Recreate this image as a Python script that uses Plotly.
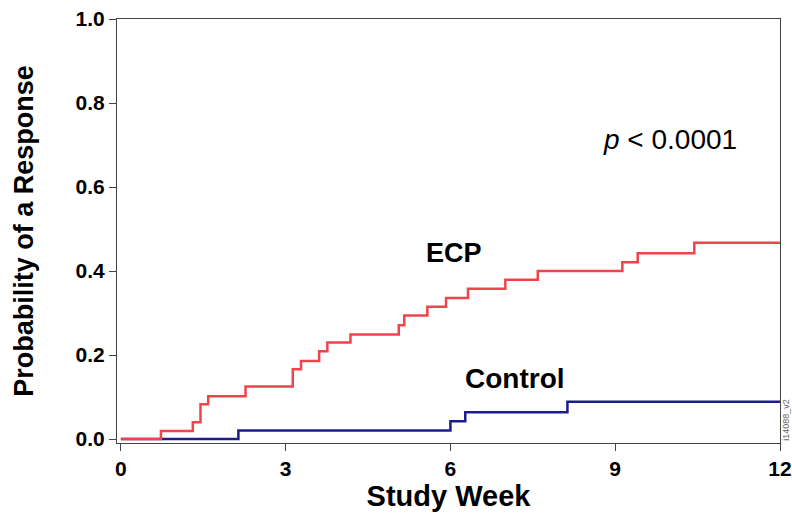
import plotly.graph_objects as go

# ECP step curve (study week, probability)
ecp_week = [0, 0.73, 1.31, 1.45, 1.59, 2.27, 3.13, 3.28, 3.61, 3.76, 4.18, 5.06, 5.16, 5.58, 5.92, 6.32, 7.0, 7.59, 9.13, 9.41, 10.44, 12]
ecp_prob = [0, 0.019, 0.040, 0.083, 0.102, 0.125, 0.166, 0.186, 0.209, 0.230, 0.249, 0.271, 0.294, 0.315, 0.336, 0.358, 0.379, 0.400, 0.421, 0.442, 0.467, 0.467]

# Control step curve
ctl_week = [0, 2.14, 6.0, 6.27, 8.13, 12]
ctl_prob = [0, 0.020, 0.042, 0.064, 0.089, 0.089]

x_ticks = [0, 3, 6, 9, 12]
y_ticks = [0.0, 0.2, 0.4, 0.6, 0.8, 1.0]
y_ticklabels = ["0.0", "0.2", "0.4", "0.6", "0.8", "1.0"]

FONT = "Liberation Sans, Arial, Helvetica, sans-serif"

fig = go.Figure()
fig.add_trace(go.Scatter(x=ctl_week, y=ctl_prob, mode="lines", line_shape="hv",
                         line=dict(color="#1c1c8e", width=2.5), name="Control"))
fig.add_trace(go.Scatter(x=ecp_week, y=ecp_prob, mode="lines", line_shape="hv",
                         line=dict(color="#f0444c", width=2.5), name="ECP"))

fig.add_annotation(x=6.07, y=0.443, xref="x", yref="y", text="<b>ECP</b>", showarrow=False,
                   font=dict(family=FONT, size=27, color="black"))
fig.add_annotation(x=7.18, y=0.145, xref="x", yref="y", text="<b>Control</b>", showarrow=False,
                   font=dict(family=FONT, size=28, color="black"))
fig.add_annotation(x=10.0, y=0.712, xref="x", yref="y", text="<i>p</i> &lt; 0.0001", showarrow=False,
                   font=dict(family=FONT, size=28, color="black"))
fig.add_annotation(x=1.0085, y=0.054, xref="paper", yref="paper", text="i14088_v2", showarrow=False,
                   textangle=-90, xanchor="center", yanchor="middle",
                   font=dict(family=FONT, size=9, color="#666"))

fig.update_layout(
    width=792, height=514,
    margin=dict(l=117, r=12, t=19, b=71, autoexpand=False),
    plot_bgcolor="white", paper_bgcolor="white",
    showlegend=False,
    font=dict(family=FONT, color="black"),
    xaxis=dict(range=[-0.07, 12], tickvals=x_ticks, ticks="outside", ticklen=7, tickwidth=1.2,
               tickcolor="#444", showline=True, linecolor="#444", linewidth=1.2, mirror=True,
               showgrid=False, zeroline=False, automargin=False,
               tickfont=dict(family=FONT, size=21, color="black", weight="bold"),
               title=dict(text="<b>Study Week</b>", font=dict(family=FONT, size=29), standoff=6)),
    yaxis=dict(range=[-0.0095, 1.0], tickvals=y_ticks, ticktext=[f"<b>{t}</b>" for t in y_ticklabels],
               ticks="outside", ticklen=7, tickwidth=1.2, tickcolor="#444",
               showline=True, linecolor="#444", linewidth=1.2, mirror=True,
               showgrid=False, zeroline=False, automargin=False,
               tickfont=dict(family=FONT, size=21, color="black"),
               title=dict(text="<b>Probability of a Response</b>", font=dict(family=FONT, size=27), standoff=34)),
)

fig.write_html("out.html", config={"displayModeBar": False},
               post_script="document.body.style.margin='0px';")
